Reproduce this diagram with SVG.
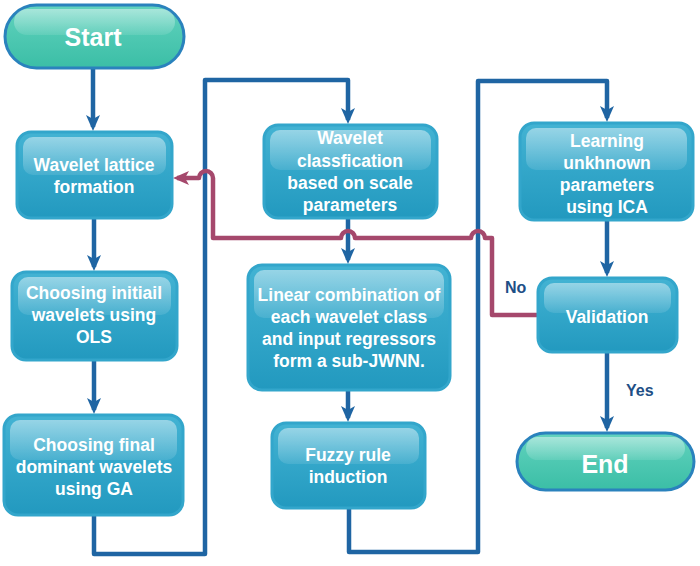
<svg xmlns="http://www.w3.org/2000/svg" width="700" height="566" viewBox="0 0 700 566">
<defs>
<linearGradient id="boxFill" x1="0" y1="0" x2="0" y2="1">
<stop offset="0" stop-color="#43b3d3"/>
<stop offset="1" stop-color="#2299bf"/>
</linearGradient>
<linearGradient id="pillFill" x1="0" y1="0" x2="0" y2="1">
<stop offset="0" stop-color="#62d3be"/>
<stop offset="1" stop-color="#3bbea6"/>
</linearGradient>
<linearGradient id="gloss" x1="0" y1="0" x2="0" y2="1">
<stop offset="0" stop-color="#ffffff" stop-opacity="0.45"/>
<stop offset="1" stop-color="#ffffff" stop-opacity="0.1"/>
</linearGradient>
<marker id="arrB" viewBox="0 0 16 14" markerWidth="16" markerHeight="14" refX="12" refY="7" orient="auto" markerUnits="userSpaceOnUse">
<path d="M0,0 L16,7 L0,14 L4,7 z" fill="#1f65a3"/>
</marker>
<marker id="arrR" viewBox="0 0 16 14" markerWidth="16" markerHeight="14" refX="12" refY="7" orient="auto" markerUnits="userSpaceOnUse">
<path d="M0,0 L16,7 L0,14 L4,7 z" fill="#a5486c"/>
</marker>
</defs>
<style>
.box{fill:url(#boxFill);stroke:#33a6cb;stroke-width:3}
.pill{fill:url(#pillFill);stroke:#2a82bd;stroke-width:3}
.gloss{fill:url(#gloss)}
.t{font-family:"Liberation Sans",Arial,sans-serif;font-weight:bold;font-size:17.5px;fill:#ffffff;text-anchor:middle}
.tp{font-family:"Liberation Sans",Arial,sans-serif;font-weight:bold;font-size:25px;fill:#ffffff;text-anchor:middle}
.lbl{font-family:"Liberation Sans",Arial,sans-serif;font-weight:bold;font-size:16px;fill:#1e4f86}
.cb{fill:none;stroke:#1f65a3;stroke-width:4.5;stroke-linejoin:round}
.cr{fill:none;stroke:#a5486c;stroke-width:4.5;stroke-linejoin:round}
</style>
<rect width="700" height="566" fill="#ffffff"/>

<g id="connectors">
<path class="cb" d="M93,68 L93,127" marker-end="url(#arrB)"/>
<path class="cb" d="M94,218 L94,267" marker-end="url(#arrB)"/>
<path class="cb" d="M94,360 L94,410" marker-end="url(#arrB)"/>
<path class="cb" d="M94,515 L94,554 L205,554 L205,80 L348,80 L348,120" marker-end="url(#arrB)"/>
<path class="cb" d="M348,218 L348,260" marker-end="url(#arrB)"/>
<path class="cb" d="M348,390 L348,418" marker-end="url(#arrB)"/>
<path class="cb" d="M349,508 L349,552 L478,552 L478,81 L607,81 L607,118" marker-end="url(#arrB)"/>
<path class="cb" d="M607,220 L607,273" marker-end="url(#arrB)"/>
<path class="cb" d="M607,352 L607,428" marker-end="url(#arrB)"/>
<path class="cr" d="M538,315 L492,315 L492,238 L485,238 A7,7 0 0 0 471,238 L355,238 A7,7 0 0 0 341,238 L213,238 L213,178 A7,7 0 0 0 199,178 L177,178" marker-end="url(#arrR)"/>
<text class="lbl" x="505" y="293">No</text>
<text class="lbl" x="626" y="396">Yes</text>
</g>

<g id="start">
<rect class="pill" x="5" y="5" width="179" height="63" rx="31.5"/>
<rect class="gloss" x="14" y="9" width="161" height="26" rx="13"/>
<text class="tp" x="93" y="46">Start</text>
</g>

<g id="wavelet-lattice">
<rect class="box" x="17" y="132" width="155" height="86" rx="14"/>
<rect class="gloss" x="23" y="137" width="143" height="38" rx="10"/>
<text class="t" x="94" y="171">Wavelet lattice</text>
<text class="t" x="94" y="193">formation</text>
</g>

<g id="initial-wavelets">
<rect class="box" x="12" y="272" width="165" height="88" rx="14"/>
<rect class="gloss" x="18" y="277" width="153" height="38" rx="10"/>
<text class="t" x="94" y="299">Choosing initiail</text>
<text class="t" x="94" y="321">wavelets using</text>
<text class="t" x="94" y="343">OLS</text>
</g>

<g id="final-wavelets">
<rect class="box" x="4" y="415" width="179" height="100" rx="14"/>
<rect class="gloss" x="10" y="420" width="167" height="40" rx="10"/>
<text class="t" x="94" y="451">Choosing final</text>
<text class="t" x="94" y="473">dominant wavelets</text>
<text class="t" x="94" y="495">using GA</text>
</g>

<g id="wavelet-classification">
<rect class="box" x="264" y="125" width="173" height="93" rx="14"/>
<rect class="gloss" x="270" y="130" width="161" height="40" rx="10"/>
<text class="t" x="350" y="144">Wavelet</text>
<text class="t" x="350" y="167">classfication</text>
<text class="t" x="350" y="189">based on scale</text>
<text class="t" x="350" y="211">parameters</text>
</g>

<g id="linear-combination">
<rect class="box" x="248" y="265" width="202" height="125" rx="14"/>
<rect class="gloss" x="254" y="270" width="190" height="48" rx="10"/>
<text class="t" x="349" y="301">Linear combination of</text>
<text class="t" x="349" y="323">each wavelet class</text>
<text class="t" x="349" y="345">and input regressors</text>
<text class="t" x="349" y="367">form a sub-JWNN.</text>
</g>

<g id="fuzzy-rule">
<rect class="box" x="272" y="423" width="153" height="85" rx="14"/>
<rect class="gloss" x="278" y="428" width="141" height="36" rx="10"/>
<text class="t" x="348" y="461">Fuzzy rule</text>
<text class="t" x="348" y="483">induction</text>
</g>

<g id="learning">
<rect class="box" x="520" y="123" width="173" height="97" rx="14"/>
<rect class="gloss" x="526" y="128" width="161" height="42" rx="10"/>
<text class="t" x="607" y="147">Learning</text>
<text class="t" x="607" y="169">unkhnown</text>
<text class="t" x="607" y="191">parameters</text>
<text class="t" x="607" y="213">using ICA</text>
</g>

<g id="validation">
<rect class="box" x="538" y="278" width="139" height="74" rx="14"/>
<rect class="gloss" x="544" y="283" width="127" height="30" rx="10"/>
<text class="t" x="607" y="323">Validation</text>
</g>

<g id="end">
<rect class="pill" x="517" y="433" width="177" height="57" rx="28.5"/>
<rect class="gloss" x="526" y="437" width="159" height="23" rx="11.5"/>
<text class="tp" x="605" y="473">End</text>
</g>
</svg>
